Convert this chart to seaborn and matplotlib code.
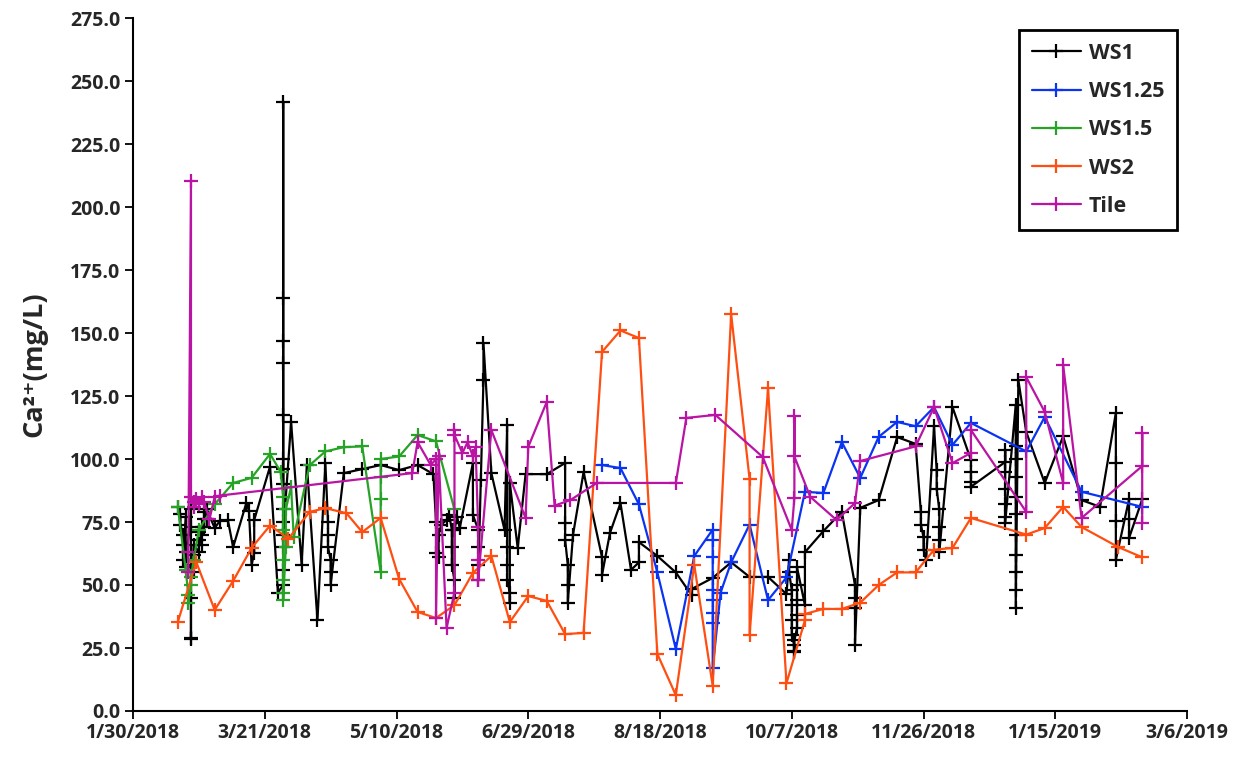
import numpy as np
import pandas as pd
import matplotlib
matplotlib.use("Agg")
import matplotlib.pyplot as plt
import seaborn as sns

# ---------------- data (sample day since 2018-01-30, Ca2+ mg/L) ----------------
START = "2018-01-30"

ws1_day = [17, 18, 18, 19, 19, 19, 20, 20, 20, 22, 22, 22, 22, 22, 22, 23, 23, 23,
           25, 25, 25, 26, 26, 26, 27, 27, 27, 28, 28, 31, 33, 36, 38, 43, 44, 45, 46, 46,
           52, 55, 57, 57, 57, 57, 57, 57, 57, 57, 57, 57, 57, 57, 57, 57,
           60, 64, 66, 70, 73, 74, 74, 74, 75, 75, 75, 80, 87, 94, 101, 108, 114,
           115, 115, 116, 116, 117, 119, 120, 121, 121, 121, 122, 122, 122, 123, 124,
           129, 129, 131, 131, 131, 131, 132, 133, 133, 136, 141, 142, 142, 142, 142,
           143, 143, 143, 146, 149, 157, 164, 164, 164, 165, 165, 165, 167, 171,
           178, 178, 181, 185, 189, 192, 192, 199, 206, 212, 212, 220, 227, 234, 241,
           248, 249, 249, 250, 250, 250, 250, 251, 251, 251, 251, 252, 252, 252, 252, 252,
           255, 255, 262, 269, 274, 274, 274, 274, 276, 283, 290, 297, 299, 299, 300,
           300, 301, 304, 305, 305, 306, 306, 306, 306, 311, 318, 318, 318, 318,
           331, 331, 331, 331, 331, 331, 331, 335, 335, 335, 335, 335, 335, 335, 335,
           335, 335, 335, 336, 339, 346, 353, 360, 367, 373, 373, 373, 373, 378, 378,
           378, 383]
ws1_ca = [81, 78, 74, 70, 66, 60, 77, 63, 57, 80, 73, 45, 29, 28.6, 58, 55, 62, 66,
          63, 68, 71, 66, 70, 73, 73, 76, 79, 76, 80, 72.6, 75.5, 75.8, 65, 82.5, 79.5, 58, 62.7, 75.8,
          97, 47, 50, 56, 65, 75, 90, 96, 117.5, 138, 147, 164, 241.5, 100, 80, 70,
          114.7, 58, 97.6, 36, 98.4, 75, 70, 65, 60, 55, 50, 94.4, 96, 97.6, 95.6, 97.6, 94,
          75, 62.7, 61, 70, 74, 75.8, 77.8, 72, 65, 58, 52, 45, 71.8, 77, 72.6,
          98.4, 77.8, 72, 65, 58, 52, 91.7, 131.3, 146, 94.4, 71.8, 113.5, 65, 58, 52,
          47, 43, 90.5, 64.7, 94, 94, 98.4, 74.6, 68, 58, 50, 42.9, 70, 94.8,
          61, 54, 70.6, 82.5, 56, 59, 67, 61.5, 55, 46, 48.4, 52.8, 59, 53.2, 53.2,
          46.4, 60, 55, 48, 42, 36, 30, 26, 24, 23.5, 28, 33, 38, 44, 50, 57,
          42, 63, 71.4, 79, 50, 45, 41, 26, 80.6, 83.7, 108.7, 106, 79, 74, 69,
          64, 60, 113, 95.6, 88, 80, 73, 68, 63, 120.6, 99.6, 95, 91, 89,
          98.8, 103.6, 95, 88, 82, 77, 74.6, 121.4, 105, 100, 93, 85, 78, 70, 62,
          55, 48, 41, 131.3, 110.7, 90.5, 109, 83.7, 81, 118.3, 98.4, 75.4, 60, 84, 76,
          68.6, 84]

ws125_day = [178, 185, 192, 199, 206, 213, 220, 220, 220, 220, 220, 220, 220, 220,
             223, 227, 234, 241, 248, 255, 262, 269, 276, 283, 290, 297, 304, 311,
             318, 339, 346, 360, 383]
ws125_ca = [97.6, 96.4, 82, 55, 24.6, 61.5, 72, 68, 61, 48, 44, 39, 35, 17,
            47, 59, 74, 44, 53, 87, 86.5, 106.7, 92.5, 108.8, 114.7, 113, 120.6, 105.6,
            114.3, 103, 116.7, 87, 81]

ws15_day = [17, 20, 21, 21, 22, 22, 23, 25, 31, 38, 45, 52, 56, 57, 57, 57, 57, 57, 57,
            58, 58, 60, 61, 67, 73, 80, 87, 94, 94, 94, 94, 101, 108, 115, 122]
ws15_ca = [81, 56, 46, 43, 50, 53, 60, 72, 82, 90.5, 92.5, 102, 95, 85, 72, 60, 52, 47, 44,
           65, 80, 89, 69, 97.5, 103, 104.7, 105, 55, 84, 93, 100, 101, 109.5, 107, 80]

ws2_day = [17, 24, 31, 38, 45, 52, 59, 67, 73, 81, 87, 94, 101, 108, 115, 122, 129, 136,
           143, 150, 157, 164, 171, 178, 185, 192, 199, 206, 213, 220, 227, 234, 234,
           241, 248, 255, 255, 262, 269, 276, 283, 290, 297, 304, 311, 318, 339, 346,
           353, 360, 374, 383]
ws2_ca = [35.3, 59.1, 40.1, 51.6, 64.7, 73.6, 68.4, 79, 80.5, 78.5, 71, 76.6, 52.4, 39.3,
          36.9, 42, 54.8, 61.5, 35.3, 45.6, 43.7, 30.5, 31, 142.5, 151, 148, 22.6, 6.3, 58,
          10, 157.5, 92, 30, 128, 11, 36, 38.5, 40.5, 40.5, 43, 50, 55, 55, 64, 64.7, 76.6,
          70, 72.6, 81, 73, 65, 61]

tile_day = [21, 21, 22, 22, 23, 23, 24, 25, 26, 27, 29, 31, 33, 106, 108, 113, 115, 115,
            116, 119, 122, 122, 122, 125, 127, 129, 130, 131, 131, 131, 136, 149, 150,
            157, 160, 166, 176, 206, 210, 221, 239, 250, 251, 251, 251, 257, 267, 274,
            276, 297, 304, 311, 318, 318, 339, 339, 346, 353, 353, 360, 383, 383, 383]
tile_ca = [55, 63, 210.5, 85, 83, 81, 84, 82, 85, 83, 76, 85, 85.5, 94.4, 106.7, 97.6, 100, 37,
           101, 33, 47, 111.5, 109.5, 102.4, 106.7, 101, 104.8, 73, 60, 52, 111.5, 76.6, 104.8,
           122.6, 81.5, 83.7, 90.5, 90.5, 116.3, 117.5, 100.8, 71.8, 84.5, 117, 101, 85, 75.8, 82.5,
           99.2, 105, 120.6, 98.4, 102.4, 111.5, 79, 132.5, 118.7, 90.5, 137.3, 76.6, 97.2, 110.3, 74.6]

site_names = ["WS1", "WS1.25", "WS1.5", "WS2", "Tile"]
site_colors = ["#000000", "#0A34F2", "#27A327", "#FF4E12", "#BA14A4"]
x_tick_step_days = 50
n_x_ticks = 9
y_ticks = np.arange(0, 275.1, 25)

# ---------------- build table ----------------
start = pd.Timestamp(START)
frames = []
for name, d, v in zip(site_names,
                      [ws1_day, ws125_day, ws15_day, ws2_day, tile_day],
                      [ws1_ca, ws125_ca, ws15_ca, ws2_ca, tile_ca]):
    frames.append(pd.DataFrame({
        "date": start + pd.to_timedelta(np.array(d), unit="D"),
        "ca": v,
        "site": name,
    }))
df = pd.concat(frames, ignore_index=True)

# ---------------- plot ----------------
sns.set_style("ticks")
plt.rcParams["font.family"] = ["Open Sans", "DejaVu Sans"]
plt.rcParams["font.weight"] = "bold"

fig = plt.figure(figsize=(12.47, 7.59), dpi=100)
ax = fig.add_axes([133 / 1247, 1 - 711 / 759, (1187 - 133) / 1247, (711 - 18) / 759])

for name, color in zip(site_names, site_colors):
    sub = df[df["site"] == name]
    sns.lineplot(data=sub, x="date", y="ca", ax=ax, color=color, estimator=None,
                 sort=False, marker="+", markersize=10.5, markeredgewidth=1.6,
                 markeredgecolor=color, linewidth=1.6, label=name)

xticks = [start + pd.Timedelta(days=x_tick_step_days * i) for i in range(n_x_ticks)]
ax.set_xlim(xticks[0], xticks[-1])
ax.set_xticks(xticks)
ax.set_xticklabels([f"{t.month}/{t.day}/{t.year}" for t in xticks],
                   fontsize=14, fontweight="bold")
ax.set_ylim(0, 275)
ax.set_yticks(y_ticks)
ax.set_yticklabels([f"{v:.1f}" for v in y_ticks], fontsize=14, fontweight="bold")
ax.tick_params(axis="both", direction="out", length=6, width=1.3, color="black", pad=3)
ax.set_xlabel("")
ax.set_ylabel("Ca²⁺(mg/L)", fontsize=19.5, fontweight="bold", labelpad=16)
sns.despine(ax=ax)
for s in ["left", "bottom"]:
    ax.spines[s].set_linewidth(1.5)
    ax.spines[s].set_color("black")

leg = ax.legend(loc="upper right", bbox_to_anchor=((1177 - 133) / 1054, (711 - 30) / 693),
                borderaxespad=0, frameon=True, fancybox=False, edgecolor="black",
                handlelength=2.3, labelspacing=0.8, borderpad=0.6,
                handletextpad=0.35, prop={"weight": "bold", "size": 15.5})
leg.get_frame().set_linewidth(2)
leg.get_frame().set_alpha(1)

fig.savefig("out.png", dpi=100)
